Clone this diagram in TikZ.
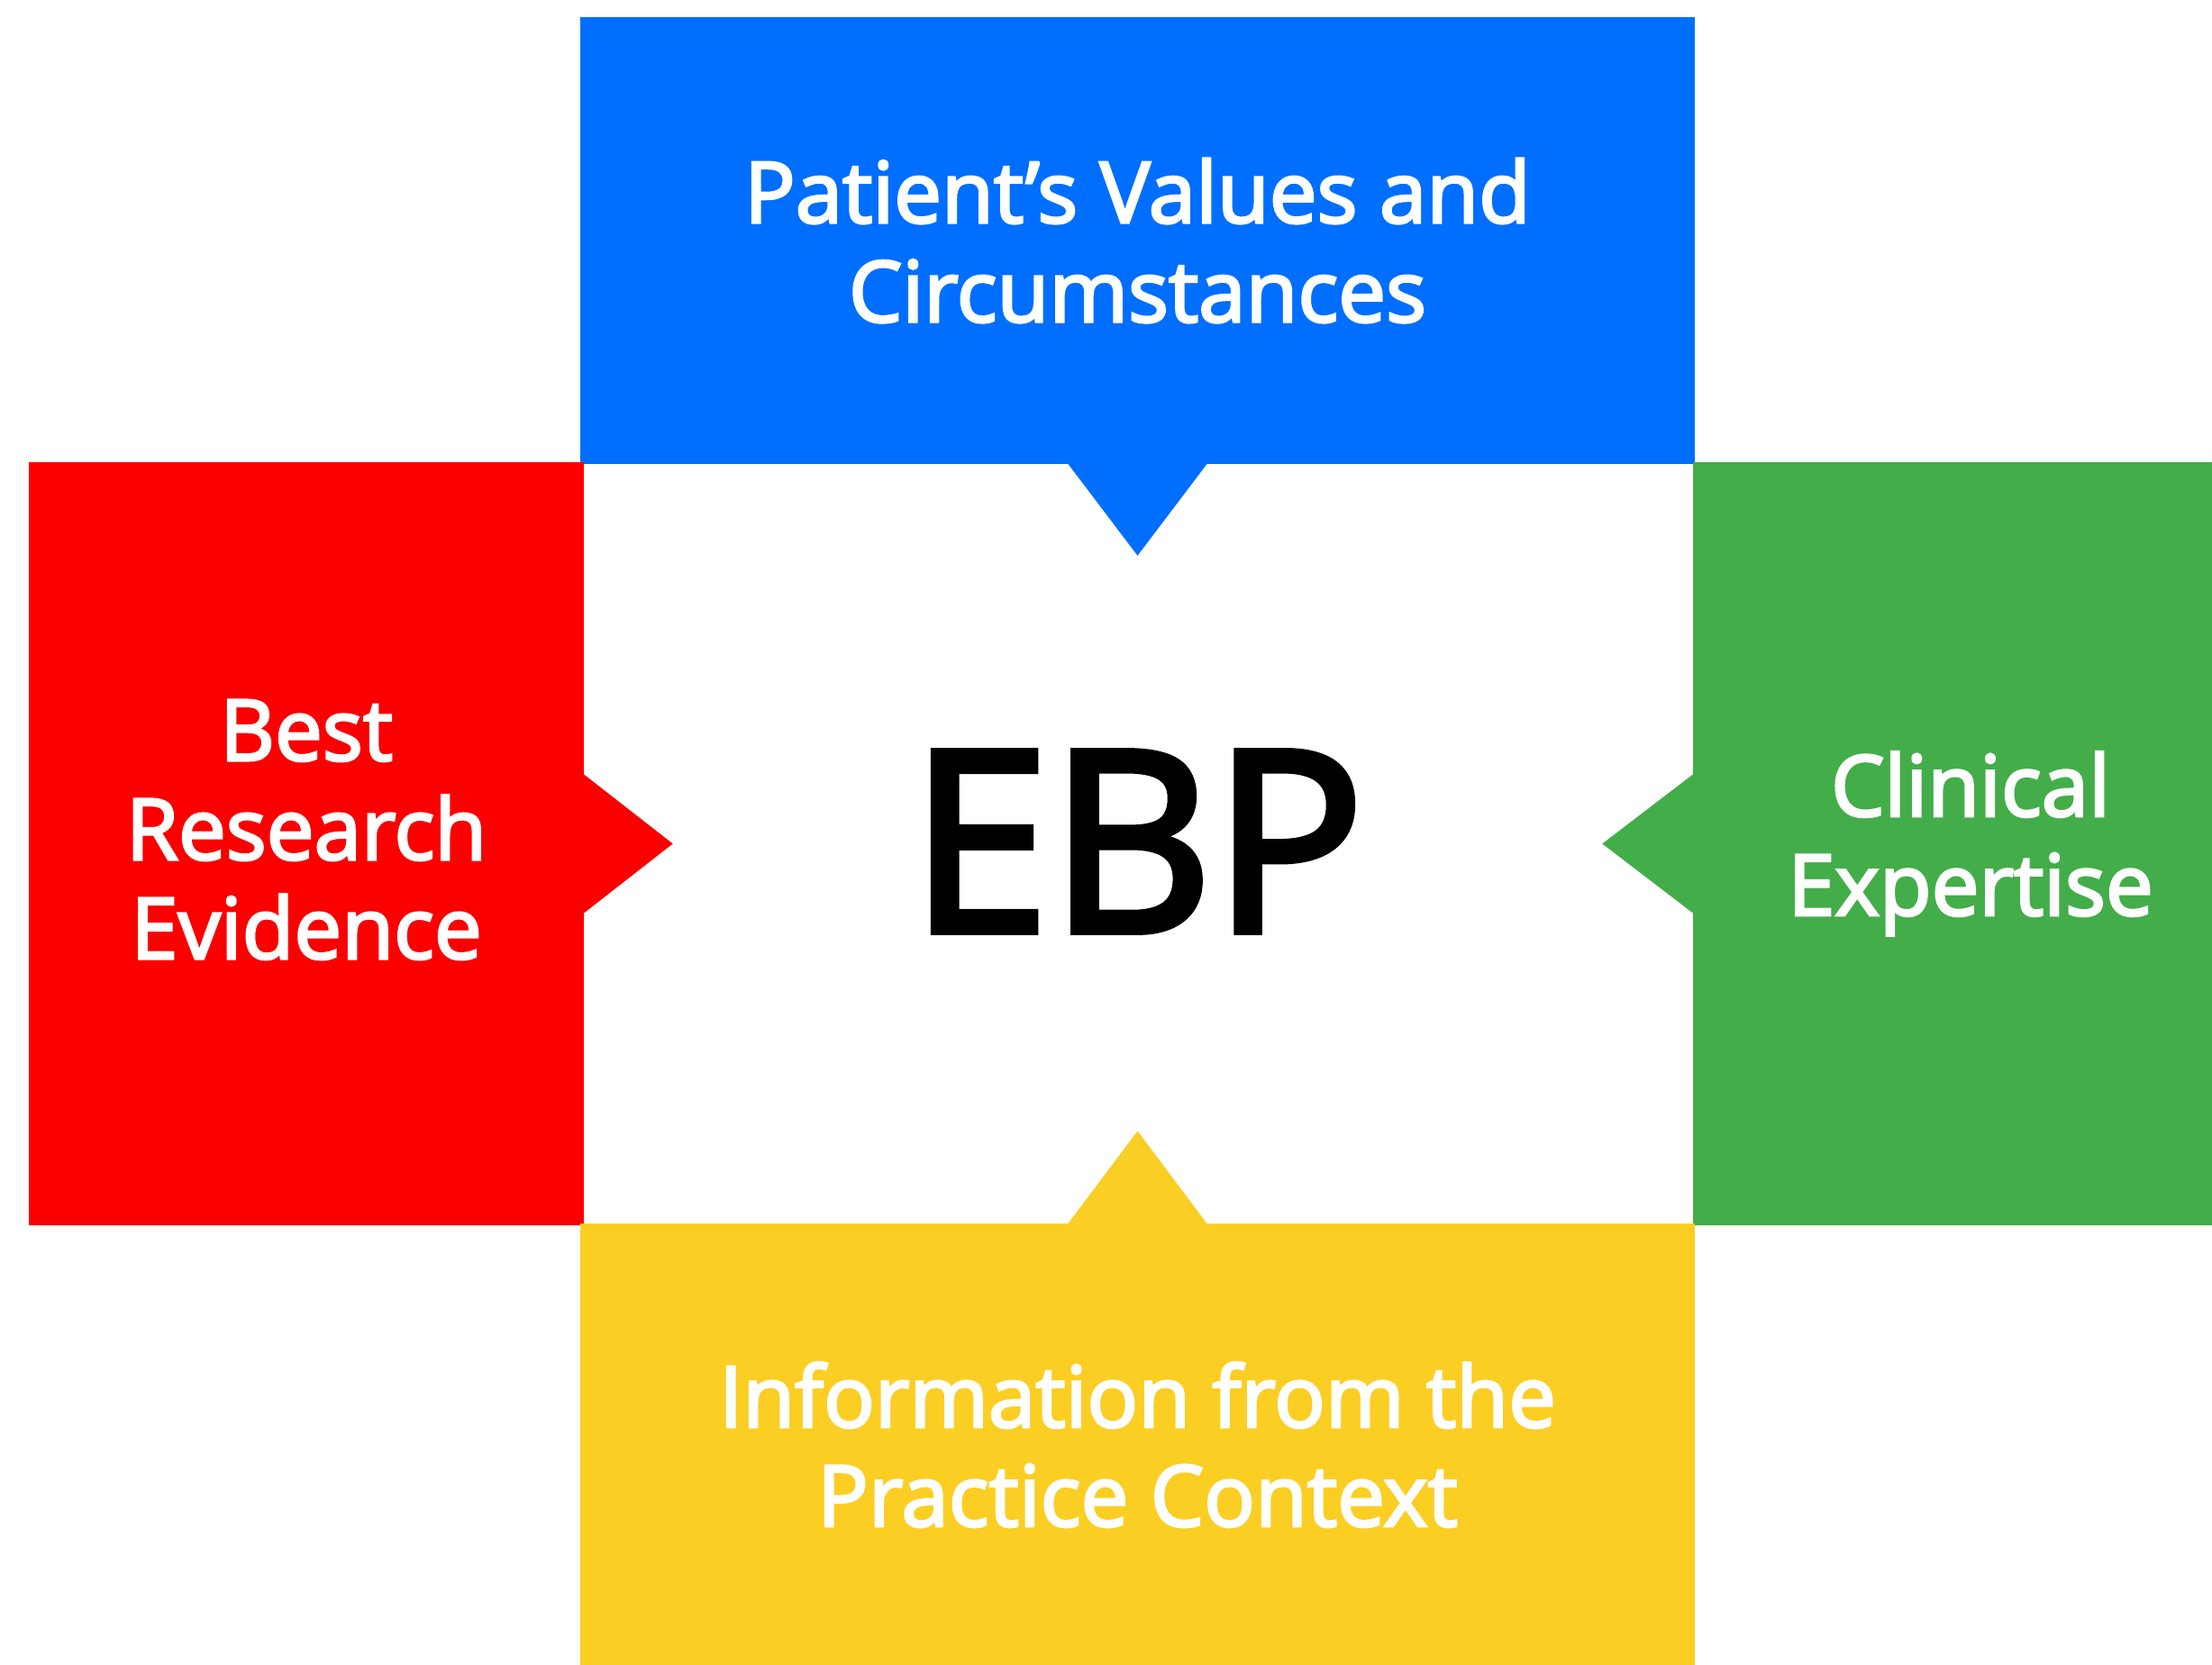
\documentclass[tikz,border=0pt]{standalone}
\usepackage{fontspec}
\setmainfont{Open Sans}
\newfontfamily\ebpfont{Open Sans}[Ligatures=TeX, FakeBold=3]
\usetikzlibrary{calc}
\usetikzlibrary{positioning}
\definecolor{ebpBlue}{RGB}{0,110,255}
\definecolor{ebpRed}{RGB}{250,0,0}
\definecolor{ebpGreen}{RGB}{67,173,74}
\definecolor{ebpYellow}{RGB}{251,206,36}
\tikzstyle{sidebox} = [rectangle, inner sep=0pt, text=white, align=center, font=\fontsize{26.8}{31.3}\selectfont\ebpfont]
\tikzstyle{widebox} = [minimum width=12.37cm]
\tikzstyle{tallbox} = [minimum width=6.16cm, minimum height=8.47cm]
\tikzstyle{colorValues} = [fill=ebpBlue]
\tikzstyle{colorResearch} = [fill=ebpRed]
\tikzstyle{colorExpertise} = [fill=ebpGreen]
\tikzstyle{colorContext} = [fill=ebpYellow]

\begin{document}
\begin{tikzpicture}
\useasboundingbox (0,0) rectangle (24.55,18.48);
\node[sidebox, widebox, colorValues, minimum height=4.96cm] (values) at (12.625,15.81) {Patient's Values and\\Circumstances};
\node[sidebox, tallbox, colorResearch, text depth=0.32cm] (research) at (3.40,9.115) {Best\\Research\\Evidence};
\node[sidebox, tallbox, colorExpertise] (expertise) at (21.87,9.115) {Clinical\\Expertise};
\node[sidebox, widebox, colorContext, minimum height=4.91cm] (context) at (12.625,2.445) {Information from the\\Practice Context};
\node[inner sep=0pt, font=\fontsize{79.5}{90}\selectfont\ebpfont] (ebp) at (12.62,9.14) {EBP};
% pointers towards the centre
\fill[ebpBlue] ($(values.south)+(-0.78,0.02)$) -- ($(values.south)+(0.78,0.02)$) -- ($(values.south)+(0,-1.01)$) -- cycle;
\fill[ebpRed] ($(research.east)+(-0.02,0.78)$) -- ($(research.east)+(-0.02,-0.78)$) -- ($(research.east)+(0.98,0)$) -- cycle;
\fill[ebpGreen] ($(expertise.west)+(0.02,0.78)$) -- ($(expertise.west)+(0.02,-0.78)$) -- ($(expertise.west)+(-1.0,0)$) -- cycle;
\fill[ebpYellow] ($(context.north)+(-0.78,-0.02)$) -- ($(context.north)+(0.78,-0.02)$) -- ($(context.north)+(0,1.02)$) -- cycle;
\end{tikzpicture}
\end{document}
